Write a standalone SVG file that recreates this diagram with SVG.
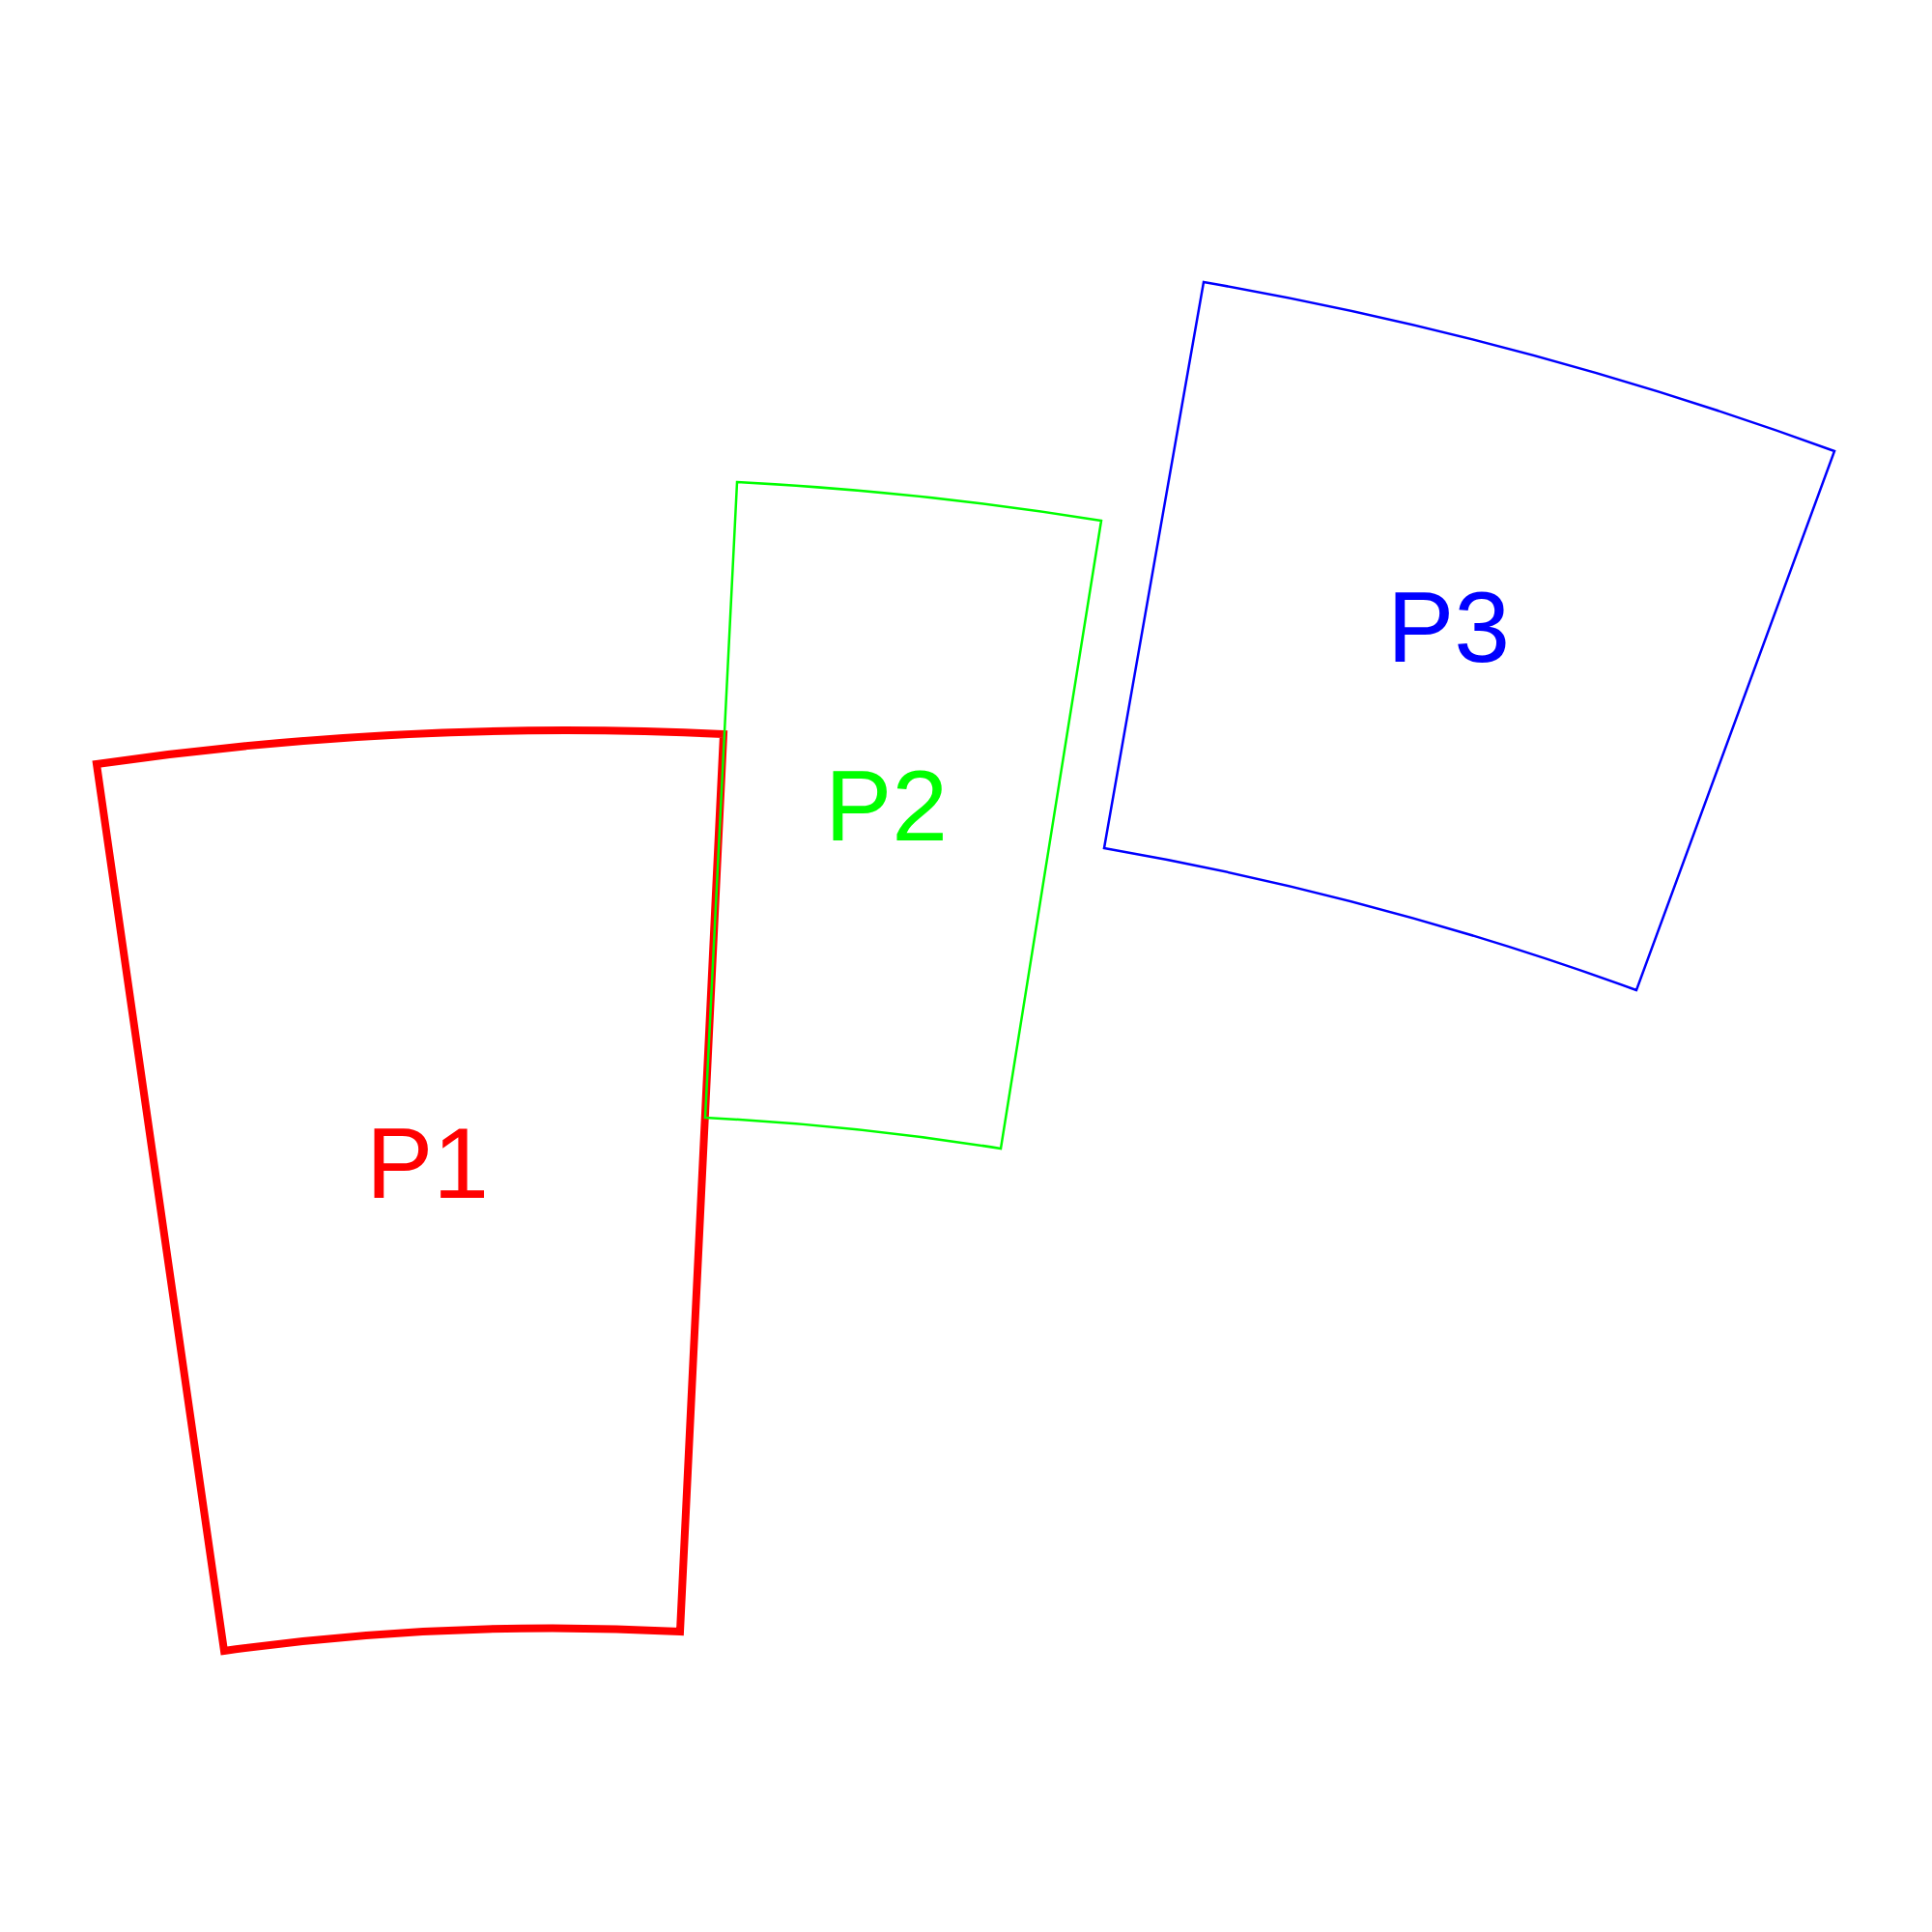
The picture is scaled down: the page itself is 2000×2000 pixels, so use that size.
<svg xmlns="http://www.w3.org/2000/svg" width="2000" height="2000" viewBox="0 0 2000 2000">
<style>
.sh{fill:none;stroke-linejoin:miter}
.lbl{font-family:"Liberation Sans",Arial,sans-serif;font-size:104px}
</style>
<rect width="2000" height="2000" fill="#fff"/>
<g id="P1">
<path class="sh" stroke="#ff0000" stroke-width="8" d="M100,791 A3403,3403 0 0,1 749,760 L704,1689 A2474,2474 0 0,0 232,1709 Z"/>
<text class="lbl" fill="#ff0000" x="379" y="1240">P1</text>
</g>
<g id="P2">
<path class="sh" stroke="#00ff00" stroke-width="2.5" d="M763,499 A3495,3495 0 0,1 1140,539 L1036,1189 A2837,2837 0 0,0 730,1157 Z"/>
<text class="lbl" fill="#00ff00" x="854" y="870">P2</text>
</g>
<g id="P3">
<path class="sh" stroke="#0000ff" stroke-width="2.5" d="M1246,292 A3801,3801 0 0,1 1899,467 L1694,1025 A3206,3206 0 0,0 1143,878 Z"/>
<text class="lbl" fill="#0000ff" x="1436" y="685">P3</text>
</g>
<g id="connectors"/>
</svg>
